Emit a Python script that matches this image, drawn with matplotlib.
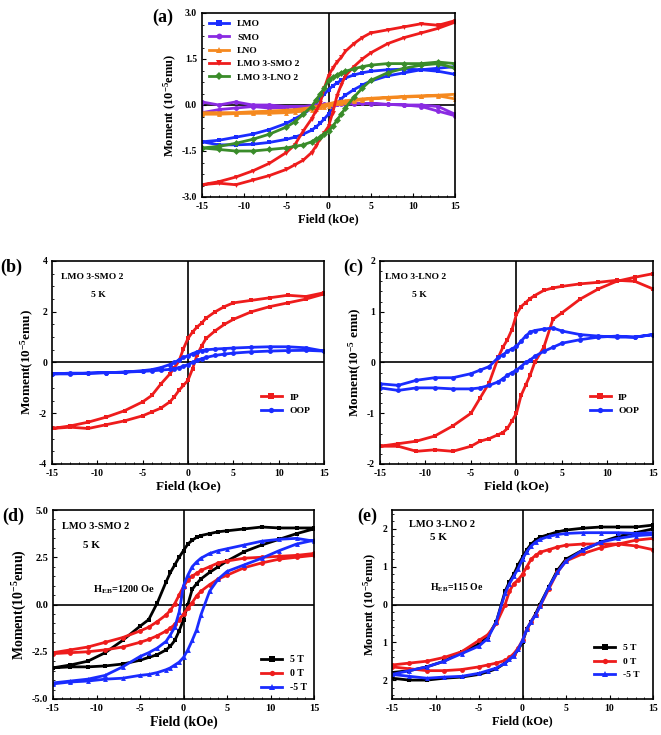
import numpy as np
import matplotlib
matplotlib.use("Agg")
from matplotlib import pyplot as plt

plt.rcParams['font.family'] = ['Liberation Serif', 'DejaVu Serif']
plt.rcParams['font.weight'] = 'bold'
plt.rcParams['axes.labelweight'] = 'bold'
plt.rcParams['axes.unicode_minus'] = False
plt.rcParams['mathtext.fontset'] = 'custom'
plt.rcParams['mathtext.rm'] = 'Liberation Serif:bold'
plt.rcParams['mathtext.default'] = 'regular'

# field grid (kOe), same for every branch
field = [-15, -13, -11, -9, -7, -5, -4, -3, -2, -1.5, -1, -0.5, 0,
         0.5, 1, 1.5, 2, 3, 4, 5, 7, 9, 11, 13, 15]

# ---- panel (a): comparison of samples (up = descending branch, dn = ascending)
lmo_up = [-1.2, -1.15, -1.05, -0.95, -0.8, -0.6, -0.45, -0.3, -0.1, 0.05, 0.2, 0.35, 0.5,
          0.62, 0.72, 0.8, 0.88, 0.98, 1.05, 1.1, 1.15, 1.17, 1.15, 1.1, 1.0]
lmo_dn = [-1.2, -1.3, -1.3, -1.28, -1.22, -1.12, -1.05, -0.95, -0.82, -0.72, -0.6, -0.45, -0.3,
          -0.1, 0.05, 0.2, 0.32, 0.5, 0.65, 0.78, 0.95, 1.05, 1.15, 1.2, 1.25]
smo_up = [0.1, 0.0, 0.1, 0.0, 0.0, -0.05, -0.05, -0.05, -0.02, 0.0, 0.0, 0.02, 0.03,
          0.04, 0.04, 0.05, 0.05, 0.05, 0.05, 0.05, 0.02, 0.0, 0.0, -0.05, -0.3]
smo_dn = [-0.25, -0.15, -0.1, -0.05, -0.1, -0.08, -0.06, -0.05, -0.04, -0.03, -0.02, 0.0, 0.0,
          0.0, 0.02, 0.03, 0.03, 0.04, 0.05, 0.04, 0.02, 0.0, -0.05, -0.2, -0.35]
lno_up = [-0.25, -0.25, -0.25, -0.22, -0.2, -0.17, -0.15, -0.12, -0.08, -0.05, -0.02, 0.01, 0.04,
          0.07, 0.1, 0.12, 0.14, 0.17, 0.2, 0.22, 0.25, 0.28, 0.3, 0.32, 0.35]
lno_dn = [-0.3, -0.3, -0.28, -0.27, -0.27, -0.25, -0.23, -0.2, -0.15, -0.12, -0.08, -0.05, -0.02,
          0.02, 0.05, 0.08, 0.1, 0.14, 0.17, 0.2, 0.23, 0.26, 0.28, 0.3, 0.2]
smo2_up = [-2.6, -2.5, -2.35, -2.15, -1.9, -1.55, -1.3, -0.85, -0.45, -0.2, 0.05, 0.55, 0.95,
           1.2, 1.4, 1.55, 1.75, 2.0, 2.2, 2.35, 2.45, 2.55, 2.65, 2.6, 2.75]
smo2_dn = [-2.6, -2.55, -2.6, -2.45, -2.3, -2.1, -1.95, -1.8, -1.55, -1.35, -1.1, -0.9, -0.7,
           -0.25, 0.3, 0.65, 0.95, 1.25, 1.5, 1.7, 2.0, 2.2, 2.35, 2.5, 2.7]
lno2_up = [-1.4, -1.35, -1.25, -1.12, -0.95, -0.72, -0.55, -0.3, -0.05, 0.15, 0.35, 0.55, 0.8,
           0.9, 0.98, 1.05, 1.1, 1.18, 1.25, 1.3, 1.35, 1.35, 1.35, 1.4, 1.35]
lno2_dn = [-1.4, -1.45, -1.5, -1.5, -1.45, -1.4, -1.35, -1.3, -1.2, -1.12, -1.05, -0.95, -0.85,
           -0.7, -0.5, -0.3, -0.1, 0.25, 0.55, 0.8, 1.05, 1.2, 1.3, 1.35, 1.2]

# ---- panel (b): LMO3-SMO2 IP / OOP
b_oop_up = [-0.45, -0.45, -0.42, -0.4, -0.38, -0.32, -0.28, -0.2, -0.08, 0.0, 0.1, 0.2, 0.27,
            0.35, 0.42, 0.47, 0.5, 0.53, 0.55, 0.57, 0.6, 0.62, 0.62, 0.58, 0.45]
b_oop_dn = [-0.45, -0.42, -0.42, -0.4, -0.38, -0.35, -0.33, -0.3, -0.27, -0.24, -0.2, -0.15, -0.08,
            0.0, 0.08, 0.15, 0.2, 0.28, 0.33, 0.37, 0.42, 0.45, 0.47, 0.48, 0.45]

# ---- panel (c): LMO3-LNO2 IP / OOP
c_ip_up = [-1.65, -1.6, -1.55, -1.45, -1.25, -1.0, -0.7, -0.4, 0.1, 0.3, 0.45, 0.65, 0.95,
           1.1, 1.18, 1.26, 1.32, 1.42, 1.47, 1.5, 1.55, 1.58, 1.62, 1.6, 1.45]
c_ip_dn = [-1.65, -1.65, -1.75, -1.72, -1.75, -1.65, -1.55, -1.5, -1.42, -1.38, -1.3, -1.15, -1.0,
           -0.65, -0.45, -0.25, 0.0, 0.3, 0.85, 0.98, 1.25, 1.45, 1.6, 1.68, 1.75]
c_oop_up = [-0.42, -0.45, -0.35, -0.3, -0.3, -0.22, -0.15, -0.08, 0.1, 0.15, 0.22, 0.27, 0.32,
            0.42, 0.52, 0.6, 0.63, 0.66, 0.68, 0.62, 0.55, 0.52, 0.5, 0.5, 0.55]
c_oop_dn = [-0.5, -0.55, -0.5, -0.5, -0.52, -0.52, -0.5, -0.45, -0.38, -0.32, -0.25, -0.2, -0.15,
            -0.08, 0.0, 0.05, 0.12, 0.22, 0.3, 0.38, 0.45, 0.5, 0.52, 0.5, 0.55]

# ---- panel (d): LMO3-SMO2 cooled in 5 T / 0 T / -5 T
d_p5_up = [-3.35, -3.2, -3.0, -2.55, -1.9, -1.15, -0.8, 0.1, 1.2, 1.7, 2.1, 2.5, 2.85,
           3.2, 3.4, 3.55, 3.65, 3.75, 3.85, 3.9, 4.0, 4.1, 4.05, 4.05, 4.05]
d_p5_dn = [-3.35, -3.3, -3.3, -3.25, -3.15, -2.95, -2.8, -2.65, -2.4, -2.2, -1.9, -1.4, -0.8,
           0.0, 0.8, 1.1, 1.35, 1.7, 2.0, 2.3, 2.8, 3.15, 3.45, 3.75, 4.0]
d_0_up = [-2.55, -2.4, -2.25, -2.0, -1.75, -1.4, -1.2, -0.9, -0.55, -0.3, 0.05, 0.5, 0.95,
          1.3, 1.5, 1.65, 1.8, 2.0, 2.2, 2.3, 2.45, 2.5, 2.55, 2.6, 2.7]
d_0_dn = [-2.6, -2.55, -2.5, -2.4, -2.25, -2.0, -1.85, -1.65, -1.4, -1.25, -1.05, -0.8, -0.5,
          -0.2, 0.1, 0.45, 0.7, 1.05, 1.35, 1.55, 1.95, 2.2, 2.4, 2.5, 2.6]
d_m5_up = [-4.15, -4.05, -3.95, -3.75, -3.3, -2.75, -2.55, -2.3, -1.95, -1.6, -1.2, -0.4, 1.0,
           1.55, 2.0, 2.25, 2.45, 2.7, 2.85, 2.95, 3.15, 3.35, 3.45, 3.5, 3.35]
d_m5_dn = [-4.2, -4.1, -4.05, -3.95, -3.9, -3.75, -3.7, -3.6, -3.45, -3.35, -3.2, -3.05, -2.8,
           -2.4, -1.9, -1.35, -0.55, 0.7, 1.35, 1.75, 2.1, 2.45, 2.85, 3.2, 3.4]

# ---- panel (e): LMO3-LNO2 cooled in 5 T / 0 T / -5 T
e_p5_up = [-1.8, -1.75, -1.65, -1.5, -1.25, -1.05, -0.85, -0.45, 0.35, 0.6, 0.8, 1.05, 1.25,
           1.45, 1.6, 1.7, 1.78, 1.85, 1.92, 1.97, 2.02, 2.05, 2.05, 2.05, 2.1]
e_p5_dn = [-1.95, -2.0, -2.0, -1.95, -1.92, -1.85, -1.78, -1.7, -1.55, -1.45, -1.35, -1.2, -1.0,
           -0.65, -0.45, -0.25, 0.0, 0.45, 0.9, 1.2, 1.45, 1.65, 1.8, 1.9, 2.0]
e_0_up = [-1.6, -1.55, -1.5, -1.4, -1.25, -0.95, -0.8, -0.5, 0.0, 0.35, 0.55, 0.65, 0.8,
          1.0, 1.2, 1.3, 1.38, 1.45, 1.52, 1.57, 1.6, 1.6, 1.6, 1.55, 1.45]
e_0_dn = [-1.65, -1.7, -1.75, -1.75, -1.72, -1.65, -1.6, -1.55, -1.48, -1.4, -1.3, -1.15, -0.95,
          -0.65, -0.45, -0.28, -0.05, 0.4, 0.85, 1.15, 1.35, 1.5, 1.6, 1.7, 1.75]
e_m5_up = [-1.85, -1.75, -1.65, -1.5, -1.3, -1.1, -0.9, -0.45, 0.3, 0.55, 0.75, 0.95, 1.2,
           1.4, 1.55, 1.65, 1.72, 1.8, 1.85, 1.88, 1.9, 1.9, 1.9, 1.88, 1.9]
e_m5_dn = [-1.85, -1.9, -1.95, -1.92, -1.9, -1.82, -1.75, -1.68, -1.55, -1.45, -1.35, -1.18, -0.95,
           -0.65, -0.45, -0.28, -0.05, 0.45, 0.85, 1.15, 1.45, 1.65, 1.75, 1.82, 1.85]

RED = '#ee1c1c'
BLUE = '#1a2cff'
BLACK = '#000000'
PURPLE = '#8a2be2'
ORANGE = '#f5891f'
GREEN = '#3a8c2a'

W, H = 661, 735
fig = plt.figure(figsize=(W / 100, H / 100), dpi=100)


def add_ax(l, r, t, b):
    return fig.add_axes([l / W, 1 - b / H, (r - l) / W, (b - t) / H])


def loop(ax, up, dn, color, marker, label, ms=3.5):
    h = np.array(field)
    x = np.concatenate([h[::-1], h])
    y = np.concatenate([np.array(up)[::-1], np.array(dn)])
    ax.plot(x, y, color=color, marker=marker, ms=ms, lw=2.0, mew=0, label=label)


def style(ax, ylim, yticks, ylabel='Moment(10$^{-5}$emu)', fs=7, lfs=9):
    ax.set_xlim(-15, 15)
    ax.set_ylim(*ylim)
    ax.set_xticks([-15, -10, -5, 0, 5, 10, 15])
    ax.set_yticks(yticks)
    ax.axhline(0, color='k', lw=1.2, zorder=0.5)
    ax.axvline(0, color='k', lw=1.2, zorder=0.5)
    ax.minorticks_on()
    ax.tick_params(which='both', direction='in', top=False, right=False, labelsize=fs)
    ax.tick_params(which='major', length=3)
    ax.tick_params(which='minor', length=1.5)
    for s in ax.spines.values():
        s.set_linewidth(1.2)
    ax.set_xlabel('Field (kOe)', fontsize=lfs, labelpad=2)
    ax.set_ylabel(ylabel, fontsize=lfs, labelpad=2)


# (a)
ax = add_ax(202, 455, 13, 197)
loop(ax, lmo_up, lmo_dn, BLUE, 's', 'LMO')
loop(ax, smo_up, smo_dn, PURPLE, 'o', 'SMO')
loop(ax, lno_up, lno_dn, ORANGE, '^', 'LNO')
loop(ax, smo2_up, smo2_dn, RED, 'v', 'LMO 3-SMO 2')
loop(ax, lno2_up, lno2_dn, GREEN, 'D', 'LMO 3-LNO 2')
style(ax, (-3, 3), [-3, -1.5, 0, 1.5, 3], ylabel='Moment (10$^{-5}$emu)', fs=7, lfs=9)
ax.set_yticklabels(['-3.0', '-1.5', '0.0', '1.5', '3.0'])
ax.legend(loc='upper left', frameon=False, fontsize=6.8, handlelength=2.2,
          markerscale=1.2, labelspacing=0.5, borderaxespad=0.3)
fig.text(152 / W, 1 - 22 / H, '(a)', fontsize=13, fontweight='bold')

# (b)
ax = add_ax(52, 324, 261, 464)
loop(ax, smo2_up, smo2_dn, RED, 's', 'IP')
loop(ax, b_oop_up, b_oop_dn, BLUE, 'o', 'OOP')
style(ax, (-4, 4), [-4, -2, 0, 2, 4], lfs=9.5)
ax.legend(loc='lower right', bbox_to_anchor=(0.98, 0.2), frameon=False, fontsize=6.8,
          handlelength=2.2, markerscale=1.1)
ax.text(-14, 3.3, 'LMO 3-SMO 2', fontsize=6.8)
ax.text(-10.7, 2.6, '5 K', fontsize=6.8)
fig.text(0 / W, 1 - 272 / H, '(b)', fontsize=13, fontweight='bold')

# (c)
ax = add_ax(380, 653, 261, 464)
loop(ax, c_ip_up, c_ip_dn, RED, 's', 'IP')
loop(ax, c_oop_up, c_oop_dn, BLUE, 'o', 'OOP')
style(ax, (-2, 2), [-2, -1, 0, 1, 2], ylabel='Moment(10$^{-5}$ emu)', lfs=9.5)
ax.legend(loc='lower right', bbox_to_anchor=(0.98, 0.2), frameon=False, fontsize=6.8,
          handlelength=2.2, markerscale=1.1)
ax.text(-14.5, 1.65, 'LMO 3-LNO 2', fontsize=6.8)
ax.text(-11.5, 1.3, '5 K', fontsize=6.8)
fig.text(343 / W, 1 - 272 / H, '(c)', fontsize=13, fontweight='bold')

# (d)
ax = add_ax(53, 314, 510, 699)
loop(ax, d_p5_up, d_p5_dn, BLACK, 's', '5 T')
loop(ax, d_0_up, d_0_dn, RED, 'o', '0 T')
loop(ax, d_m5_up, d_m5_dn, BLUE, '^', '-5 T')
style(ax, (-5, 5), [-5, -2.5, 0, 2.5, 5], fs=7.5, lfs=10)
ax.set_yticklabels(['-5.0', '-2.5', '0.0', '2.5', '5.0'])
ax.legend(loc='lower right', frameon=False, fontsize=7, handlelength=2.2,
          markerscale=1.1, borderaxespad=0.3)
ax.text(-14, 4.0, 'LMO 3-SMO 2', fontsize=7.5)
ax.text(-11.5, 3.0, '5 K', fontsize=8)
ax.text(-10.4, 0.65, 'H$_{EB}$=1200 Oe', fontsize=7.5)
fig.text(2 / W, 1 - 521 / H, '(d)', fontsize=13, fontweight='bold')

# (e)
ax = add_ax(392, 653, 510, 699)
loop(ax, e_p5_up, e_p5_dn, BLACK, 's', '5 T')
loop(ax, e_0_up, e_0_dn, RED, 'o', '0 T')
loop(ax, e_m5_up, e_m5_dn, BLUE, '^', '-5 T')
style(ax, (-2.5, 2.5), [-2, -1, 0, 1, 2], ylabel='Moment (10$^{-5}$emu)', fs=7, lfs=9)
ax.set_yticklabels(['2', '1', '0', '1', '2'])
ax.legend(loc='lower right', bbox_to_anchor=(0.98, 0.06), frameon=False, fontsize=6.8,
          handlelength=2.2, markerscale=1.1)
ax.text(-13, 2.05, 'LMO 3-LNO 2', fontsize=7.5)
ax.text(-10.6, 1.7, '5 K', fontsize=8)
ax.text(-10.6, 0.38, 'H$_{EB}$=115 Oe', fontsize=7)
fig.text(357 / W, 1 - 521 / H, '(e)', fontsize=13, fontweight='bold')

fig.savefig('out.png', dpi=100)
